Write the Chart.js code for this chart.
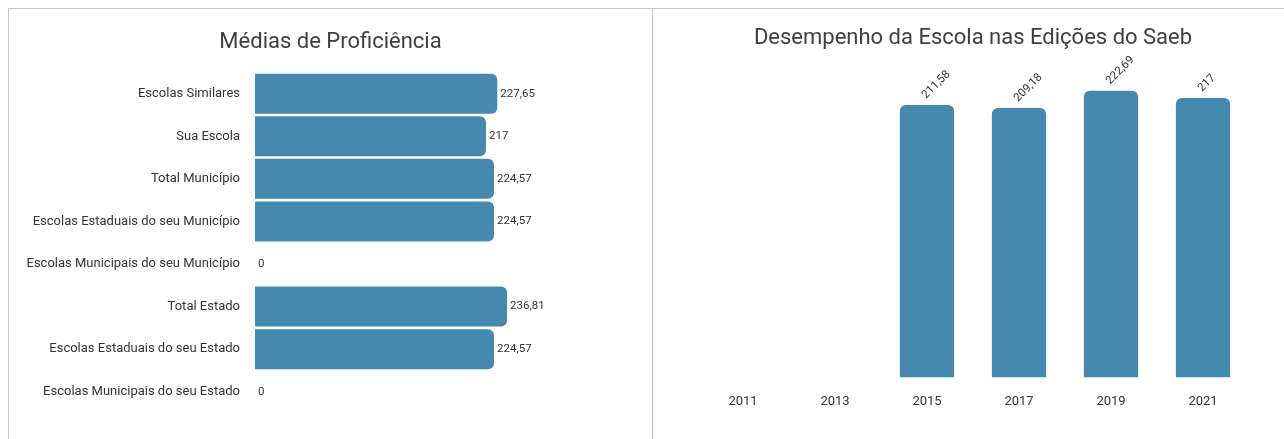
<!DOCTYPE html>
<html lang="pt-BR">
<head>
<meta charset="utf-8">
<title>Proficiência</title>
<script src="https://cdn.jsdelivr.net/npm/chart.js@4"></script>
<style>
  html, body { margin: 0; padding: 0; background: #fff; overflow: hidden; }
  .frame {
    position: absolute; left: 8px; top: 8px; width: 1300px; height: 440px;
    border-left: 1px solid #c6c6c6; border-top: 1px solid #c6c6c6;
  }
  .panel { position: absolute; top: 0; height: 430px; }
  #leftPanel { left: 0; width: 643px; border-right: 1px solid #c6c6c6; }
  #rightPanel { left: 644px; width: 638px; }
</style>
</head>
<body>
<div class="frame">
  <div class="panel" id="leftPanel"><canvas id="mediasChart"></canvas></div>
  <div class="panel" id="rightPanel"><canvas id="edicoesChart"></canvas></div>
</div>
<script>
// Médias de proficiência por rede
const grupos = [
  'Escolas Similares',
  'Sua Escola',
  'Total Município',
  'Escolas Estaduais do seu Município',
  'Escolas Municipais do seu Município',
  'Total Estado',
  'Escolas Estaduais do seu Estado',
  'Escolas Municipais do seu Estado'
];
const medias = [227.65, 217, 224.57, 224.57, 0, 236.81, 224.57, 0];

// Desempenho da escola por edição do Saeb
const edicoes = ['2011', '2013', '2015', '2017', '2019', '2021'];
const desempenho = [null, null, 211.58, 209.18, 222.69, 217];

const barColor = '#4589ae';
const textColor = '#333';

Chart.defaults.font.family = 'Roboto';
Chart.defaults.color = textColor;

function fmt(v) {
  return String(v).replace('.', ',');
}

// draws the value next to (or above) each bar
const valueLabels = {
  id: 'valueLabels',
  afterDatasetsDraw(chart, args, opts) {
    const ctx = chart.ctx;
    const meta = chart.getDatasetMeta(0);
    const data = chart.data.datasets[0].data;
    ctx.save();
    ctx.font = '11.5px Roboto';
    ctx.fillStyle = textColor;
    meta.data.forEach((bar, i) => {
      const v = data[i];
      if (v === null || v === undefined) return;
      if (opts.rotate) {
        ctx.save();
        ctx.translate(bar.x - 3, bar.y - 8);
        ctx.rotate(-opts.rotate * Math.PI / 180);
        ctx.textAlign = 'left';
        ctx.textBaseline = 'middle';
        ctx.fillText(fmt(v), 0, 0);
        ctx.restore();
      } else {
        ctx.textAlign = 'left';
        ctx.textBaseline = 'middle';
        ctx.fillText(fmt(v), bar.x + 3, bar.y);
      }
    });
    ctx.restore();
  }
};

const titleFont = { size: 22, weight: 'normal', family: 'Roboto' };

new Chart(document.getElementById('mediasChart'), {
  type: 'bar',
  data: {
    labels: grupos,
    datasets: [{
      data: medias,
      backgroundColor: barColor,
      borderRadius: 6,
      barPercentage: 0.94,
      categoryPercentage: 1
    }]
  },
  options: {
    indexAxis: 'y',
    responsive: true,
    maintainAspectRatio: false,
    animation: false,
    layout: { padding: { top: 0, bottom: 26, left: 0, right: 0 } },
    scales: {
      x: { display: false, min: 0, max: 373 },
      y: {
        grid: { display: false, drawTicks: false },
        border: { display: false },
        ticks: { font: { size: 13 }, color: textColor, padding: 15 },
        afterFit(scale) { scale.width = 246; }
      }
    },
    plugins: {
      legend: { display: false },
      tooltip: { enabled: false },
      title: {
        display: true,
        text: 'Médias de Proficiência',
        color: '#3f3f3f',
        font: titleFont,
        padding: { top: 20, bottom: 17 }
      },
      valueLabels: { rotate: 0 }
    }
  },
  plugins: [valueLabels]
});

new Chart(document.getElementById('edicoesChart'), {
  type: 'bar',
  data: {
    labels: edicoes,
    datasets: [{
      data: desempenho,
      backgroundColor: barColor,
      borderRadius: 6,
      barPercentage: 0.59,
      categoryPercentage: 1
    }]
  },
  options: {
    responsive: true,
    maintainAspectRatio: false,
    animation: false,
    layout: { padding: { top: 0, bottom: 12, left: 44, right: 42 } },
    scales: {
      y: { display: false, min: 0, max: 240 },
      x: {
        grid: { display: false, drawTicks: false },
        border: { display: false },
        ticks: { font: { size: 13 }, color: textColor, padding: 17, maxRotation: 0 }
      }
    },
    plugins: {
      legend: { display: false },
      tooltip: { enabled: false },
      title: {
        display: true,
        text: 'Desempenho da Escola nas Edições do Saeb',
        color: '#3f3f3f',
        font: titleFont,
        padding: { top: 16, bottom: 17 }
      },
      valueLabels: { rotate: 45 }
    }
  },
  plugins: [valueLabels]
});
</script>
</body>
</html>
